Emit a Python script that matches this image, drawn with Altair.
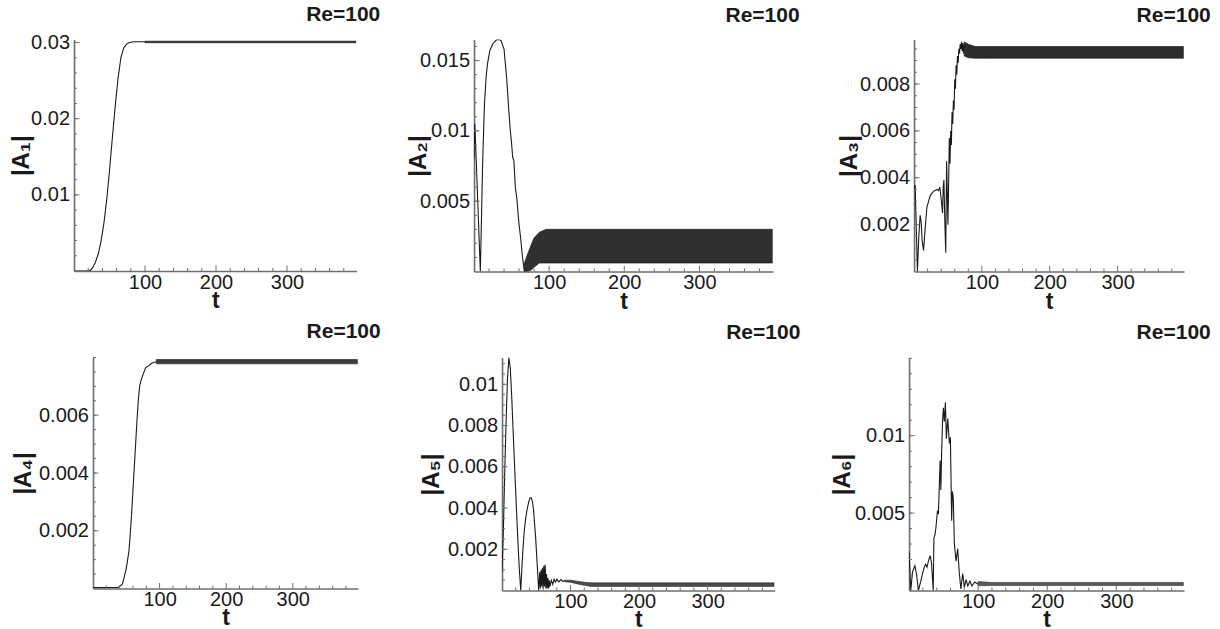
import altair as alt
import pandas as pd

FONT = "Liberation Sans"
INK = "#1a1a1a"
AXIS_GRAY = "#6e6e6e"
T_MAX = 398

# x-axis tick values (t)
X_MAJOR = [100, 200, 300]
X_MINOR = [20, 40, 60, 80, 120, 140, 160, 180, 220, 240, 260, 280, 320, 340, 360, 380]

# ---------------- panel 1 : |A1| ----------------
t1 = [0, 10, 20, 23, 26, 30, 34, 38, 42, 46, 50, 54, 58, 62, 66, 70, 74, 78, 84, 92, 100]
a1 = [0.0, 0.0, 0.00002, 0.0001, 0.0004, 0.0011, 0.0022, 0.0039, 0.0062, 0.0093, 0.0132,
      0.0175, 0.0216, 0.0253, 0.0280, 0.0293, 0.0298, 0.0300, 0.0301, 0.0301, 0.0301]
b1_t = [100, 397]
b1_lo = [0.02998, 0.02998]
b1_hi = [0.03018, 0.03018]

# ---------------- panel 2 : |A2| ----------------
t2 = [0, 1, 3, 5, 7, 8.4, 10, 11.5, 13.8, 16, 18, 21, 25, 30, 33, 36, 40, 43.5, 46, 48, 50,
      51.5, 53, 55, 57, 58, 60, 62, 64, 66, 67]
a2 = [0.0080, 0.0105, 0.0078, 0.0049, 0.0020, 0.0, 0.0040, 0.0078, 0.0118, 0.0138, 0.0148,
      0.0157, 0.0162, 0.01648, 0.0165, 0.01642, 0.0158, 0.0137, 0.0117, 0.0102, 0.0091,
      0.0081, 0.0079, 0.0060, 0.0052, 0.0045, 0.0033, 0.0024, 0.0013, 0.0004, 0.0]
b2_t = [67, 71, 76, 80, 87, 96, 397]
b2_lo = [0.0, 0.0, 0.0001, 0.0003, 0.0006, 0.0006, 0.0006]
b2_hi = [0.0006, 0.0012, 0.0019, 0.0024, 0.0028, 0.0030, 0.0030]

# ---------------- panel 3 : |A3| ----------------
t3 = [0, 1.5, 3, 5, 7, 9, 10.5, 12, 14, 16, 19, 24, 28, 31, 34, 36, 38, 40, 42, 43,
      44, 45.5, 46.7, 48, 50, 52, 53, 54, 55, 56, 57, 58, 59, 60, 61, 62, 63, 64, 65, 66,
      67, 68, 69, 70, 71, 72, 73, 74]
a3 = [0.0035, 0.0037, 0.0022, 0.0, 0.0015, 0.0024, 0.0021, 0.0013, 0.0009, 0.0017,
      0.00275, 0.00325, 0.0034, 0.00346, 0.0035, 0.00345, 0.0036, 0.0031, 0.0025, 0.0036,
      0.0039, 0.0020, 0.0008, 0.0047, 0.0020, 0.0057, 0.0046, 0.0060, 0.0054, 0.0068,
      0.0063, 0.0073, 0.0069, 0.0082, 0.0078, 0.0088, 0.0084, 0.0092, 0.0089, 0.0095,
      0.0093, 0.0097, 0.0095, 0.0098, 0.0094, 0.00975, 0.0093, 0.0097]
b3_t = [74, 80, 90, 110, 397]
b3_lo = [0.0092, 0.00912, 0.0091, 0.0091, 0.0091]
b3_hi = [0.0098, 0.0097, 0.0096, 0.0096, 0.0096]

# ---------------- panel 4 : |A4| ----------------
t4 = [0, 20, 38, 44, 47, 50, 52, 54, 56, 58, 60, 62, 64, 66, 68, 70, 72, 75, 79, 83, 88, 95]
a4 = [0.00003, 0.00003, 0.00004, 0.00015, 0.0004, 0.0007, 0.0010, 0.0013, 0.0019, 0.0026,
      0.0034, 0.0042, 0.0050, 0.0058, 0.0065, 0.0070, 0.0072, 0.0074, 0.00765, 0.0077,
      0.0078, 0.00785]
b4_t = [95, 397]
b4_lo = [0.00778, 0.00778]
b4_hi = [0.00793, 0.00793]

# ---------------- panel 5 : |A5| ----------------
t5 = [0, 2, 4, 6, 8, 10, 12, 14, 16, 18.5, 21, 23.4, 25.5, 27.3, 29, 30.7, 32.5, 34.5, 37, 39,
      41, 42.8, 44.5, 46, 49, 51.6, 53.5, 55, 56, 57, 58, 59, 60, 61, 62, 63, 64, 65, 66, 67,
      68, 69, 70, 72, 74, 76, 78, 80, 83, 86, 89, 92]
a5 = [0.0009, 0.0030, 0.0058, 0.0083, 0.0103, 0.0113, 0.0108, 0.0095, 0.0079, 0.0059,
      0.0040, 0.0022, 0.0009, 0.0, 0.0011, 0.0021, 0.0029, 0.0035, 0.0040, 0.0043,
      0.0045, 0.0045, 0.0043, 0.0039, 0.0026, 0.0011, 0.0, 0.0009, 0.0001, 0.0010,
      0.0002, 0.0011, 0.0001, 0.0012, 0.0002, 0.00125, 0.0001, 0.0008, 0.0001, 0.0006,
      0.0001, 0.0005, 0.0002, 0.0005, 0.0003, 0.00055, 0.0004, 0.00055, 0.00042, 0.00053,
      0.00043, 0.0005]
b5_t = [92, 100, 110, 120, 130, 397]
b5_lo = [0.00042, 0.0004, 0.00032, 0.00025, 0.0002, 0.0002]
b5_hi = [0.0005, 0.0005, 0.00045, 0.0004, 0.00037, 0.00037]

# ---------------- panel 6 : |A6| ----------------
t6 = [0, 2.5, 5, 8.5, 11, 13.5, 17, 19.3, 22, 24, 26, 28, 30.4, 32.5, 35, 36, 37.5, 39, 41, 42.5,
      44, 45, 46, 47, 48.5, 49.7, 51, 52.6, 54, 56, 58.4, 59.8, 61.7, 62.7, 64, 65.6, 68, 70.4,
      72.8, 75, 77.7, 80, 82.5, 85, 88, 91, 95, 100]
a6 = [0.0025, 0.0, 0.0012, 0.0016, 0.0010, 0.0, 0.0006, 0.00106, 0.0015, 0.0017,
      0.0015, 0.0019, 0.00225, 0.0018, 0.0, 0.0034, 0.0036, 0.0041, 0.0051, 0.0050,
      0.0070, 0.0084, 0.0065, 0.0086, 0.0110, 0.0118, 0.0109, 0.01215, 0.0098, 0.0111,
      0.0095, 0.0099, 0.0045, 0.0064, 0.0060, 0.0030, 0.0019, 0.0027, 0.0011, 0.0001,
      0.0011, 0.0002, 0.0007, 0.0003, 0.0006, 0.0003, 0.00055, 0.0004]
b6_t = [100, 120, 397]
b6_lo = [0.0003, 0.00032, 0.00032]
b6_hi = [0.00058, 0.00052, 0.00052]

Y_TITLES = ["|A\u2081|", "|A\u2082|", "|A\u2083|", "|A\u2084|", "|A\u2085|", "|A\u2086|"]


def multiples(step, top):
    n = int(top / step + 1e-9)
    return [round(k * step, 6) for k in range(1, n + 1)]


def panel(i, t, a, bt, blo, bhi, ymax, y_major, y_minor_step, width, height,
          title_x, title_dx, title_offset, band_opacity, t_title_y):
    line_df = pd.DataFrame({"t": t, "v": a})
    band_df = pd.DataFrame({"t": bt, "lo": blo, "hi": bhi})
    xs = alt.Scale(domain=[0, T_MAX], nice=False, zero=False)
    ys = alt.Scale(domain=[0, ymax], nice=False, zero=False)

    main = alt.Chart(line_df).mark_line(color=INK, strokeWidth=1.1, clip=True).encode(
        x=alt.X("t:Q", scale=xs, axis=alt.Axis(
            orient="bottom", values=X_MAJOR, format="d", ticks=False, tickSize=0, grid=False,
            domainColor=AXIS_GRAY, domainWidth=1.6, labelFont=FONT, labelFontSize=20,
            labelColor=INK, labelPadding=17, labelBaseline="alphabetic",
            labelFlush=False, labelOverlap=False,
            title="t", titleFont=FONT, titleFontSize=23, titleFontWeight="bold",
            titleColor=INK, titleY=t_title_y, titleBaseline="alphabetic")),
        y=alt.Y("v:Q", scale=ys, axis=alt.Axis(
            orient="left", values=y_major, format=".3~f", ticks=False, tickSize=0, grid=False,
            domainColor=AXIS_GRAY, domainWidth=1.6, labelFont=FONT, labelFontSize=20,
            labelColor=INK, labelPadding=4.5, labelFlush=False, labelOverlap=False,
            title=Y_TITLES[i], titleFont=FONT, titleFontSize=24, titleFontWeight="bold",
            titleColor=INK, titleAngle=270, titleX=title_x, titleY=height / 2,
            titleAlign="center", titleBaseline="alphabetic")),
    )

    band = alt.Chart(band_df).mark_area(
        color=INK, fillOpacity=band_opacity, stroke=INK, strokeWidth=0.7,
        strokeOpacity=band_opacity, clip=True
    ).encode(
        x=alt.X("t:Q", scale=xs, axis=None),
        y=alt.Y("lo:Q", scale=ys, axis=None),
        y2="hi:Q",
    )

    # inward tick marks, drawn from the tick value lists through the same scales
    def xticks(vals, size):
        return alt.Chart(pd.DataFrame({"t": vals})).mark_rule(
            color=AXIS_GRAY, strokeWidth=1).encode(
            x=alt.X("t:Q", scale=xs, axis=None),
            y=alt.value(height), y2=alt.value(height - size))

    def yticks(vals, size):
        return alt.Chart(pd.DataFrame({"v": vals})).mark_rule(
            color=AXIS_GRAY, strokeWidth=1).encode(
            y=alt.Y("v:Q", scale=ys, axis=None),
            x=alt.value(0), x2=alt.value(size))

    y_minor = multiples(y_minor_step, ymax)
    layers = [main, band,
              xticks(X_MINOR, 3), xticks(X_MAJOR, 5.5),
              yticks(y_minor, 3), yticks(y_major, 5.5)]

    return alt.layer(*layers).resolve_axis(x="independent", y="independent").properties(
        width=width, height=height,
        title=alt.TitleParams("Re=100", anchor="end", dx=title_dx, offset=title_offset,
                              font=FONT, fontSize=21, fontWeight="bold", color=INK,
                              baseline="alphabetic"),
    )


def spacer(w):
    return alt.Chart(alt.Data(values=[])).mark_point(opacity=0).encode(
        x=alt.value(0), y=alt.value(0)
    ).properties(width=w, height=10)


p1 = panel(0, t1, a1, b1_t, b1_lo, b1_hi, 0.0304, [0.01, 0.02, 0.03], 0.002,
           282.6, 231.5, -45.7, 23.7, -9.5, 0.95, 36.5)
p2 = panel(1, t2, a2, b2_t, b2_lo, b2_hi, 0.0165, [0.005, 0.01, 0.015], 0.001,
           299, 232, -48.7, 26.6, -3, 0.9, 36.5)
p3 = panel(2, t3, a3, b3_t, b3_lo, b3_hi, 0.0099, [0.002, 0.004, 0.006, 0.008], 0.0005,
           270, 232, -57.3, 26.7, -3, 0.92, 36.5)
p4 = panel(3, t4, a4, b4_t, b4_lo, b4_hi, 0.0080, [0.002, 0.004, 0.006], 0.0005,
           265, 231, -62.3, 22.7, -2, 0.85, 35.5)
p5 = panel(4, t5, a5, b5_t, b5_lo, b5_hi, 0.0113, [0.002, 0.004, 0.006, 0.008, 0.01], 0.0005,
           272.7, 233, -64, 25.6, -2, 0.78, 35.5)
p6 = panel(5, t6, a6, b6_t, b6_lo, b6_hi, 0.01505, [0.005, 0.01], 0.001,
           275, 233, -59.3, 26.7, -2, 0.72, 35.5)

row1 = alt.hconcat(spacer(73.7), p1, spacer(116.4), p2, spacer(140.6), p3,
                   spacing=0.01, bounds="flush")
row2 = alt.hconcat(spacer(92.3), p4, spacer(143.4), p5, spacer(133.9), p6,
                   spacing=0.01, bounds="flush")

chart = alt.vconcat(row1, row2, spacing=7).properties(
    padding={"left": 0, "top": 3.5, "right": 0, "bottom": 0},
    background="white",
).configure(font=FONT).configure_view(stroke=None)

chart.save("out.html", embed_options={"renderer": "svg", "actions": False})
